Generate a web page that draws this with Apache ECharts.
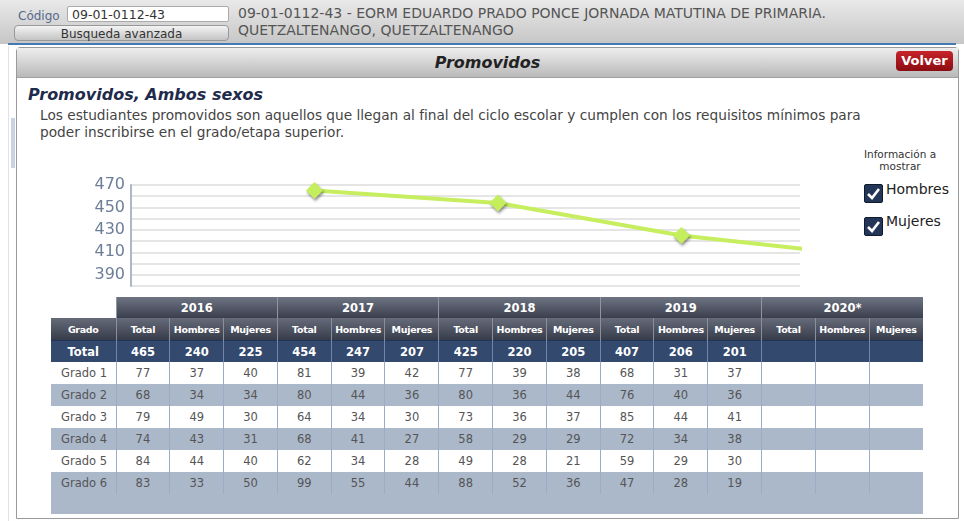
<!DOCTYPE html>
<html lang="es">
<head>
<meta charset="UTF-8">
<title>Promovidos</title>
<script src="https://cdn.jsdelivr.net/npm/echarts@6/dist/echarts.min.js"></script>
<style>
  body { margin: 0; width: 964px; height: 521px; overflow: hidden; background: #fff; font-family: 'DejaVu Sans', Verdana, sans-serif; position: relative; }
  .abs { position: absolute; }
  #top { left: 0; top: 0; width: 964px; height: 44px; background: linear-gradient(#e9e9e9, #c6c6c6); }
  #topline { left: 8px; top: 43px; width: 948px; height: 2px; background: #4579b2; }
  #codigo { left: 18px; top: 9px; font-size: 12px; color: #56688c; }
  #codbox { left: 67px; top: 6px; height: 16px; background: #fff; border: 1px solid #aaa; border-radius: 2px; font-size: 12.5px; color: #333; line-height: 16px; padding-left: 4px; box-sizing: border-box; width: 162px; }
  #busq { left: 14px; top: 25px; width: 215px; height: 16px; border: 1px solid #999; border-radius: 4px; background: linear-gradient(#f4f4f4, #c4c4c4); font-size: 12px; color: #333; text-align: center; line-height: 16px; box-sizing: border-box; }
  #school { left: 238px; top: 5px; font-size: 14px; color: #555; line-height: 17px; }
  #leftline { left: 8px; top: 46px; width: 1px; height: 475px; background: #e2e2e2; }
  #scroll { left: 11px; top: 118px; width: 4px; height: 50px; background: #c8d3e3; }
  #panel { left: 16px; top: 47px; width: 943px; height: 472px; border: 1px solid #9a9a9a; border-radius: 4px 4px 0 0; box-sizing: border-box; }
  #phead { left: 17px; top: 48px; width: 941px; height: 29px; background: linear-gradient(#eeeeee, #b9b9b9); border-bottom: 1px solid #a0a0a0; }
  #ptitle { left: 17px; top: 53px; width: 941px; text-align: center; font-size: 16px; font-weight: bold; font-style: italic; color: #222; }
  #volver { left: 896px; top: 51px; width: 57px; height: 20px; border-radius: 4px; background: linear-gradient(#c8232a, #8a0c12); color: #fff; font-weight: bold; font-size: 13px; text-align: center; line-height: 20px; }
  #subtitle { left: 28px; top: 85px; font-size: 16px; font-weight: bold; font-style: italic; color: #1f2b4b; }
  #desc { left: 40px; top: 107px; width: 870px; font-size: 13.7px; color: #444; line-height: 17px; }
  #chart { left: 0; top: 170px; width: 840px; height: 125px; }
  #info { left: 850px; top: 148px; width: 100px; text-align: center; font-size: 10.5px; color: #333; line-height: 12px; }
  .chk { left: 864px; width: 19px; height: 19px; background: #243657; border: 1px solid #101a2e; box-sizing: border-box; border-radius: 2px; }
  .chkl { left: 886px; font-size: 14px; color: #222; }
  table { position: absolute; left: 51px; top: 297px; border-collapse: collapse; table-layout: fixed; width: 872px; }
  td { padding: 0; text-align: center; overflow: hidden; white-space: nowrap; }
  .yr td.y { height: 21px; background: linear-gradient(#6f7483, #3a3f4e); color: #fff; font-weight: bold; font-size: 11.5px; border-left: 1px solid #9095a2; }
  .sh td { height: 22px; background: linear-gradient(#666b7a, #373c4a); color: #fff; font-weight: bold; font-size: 9.5px; border-left: 1px solid #8a8f9c; letter-spacing: -0.3px; }
  .tot td { height: 21px; background: #33496d; color: #fff; font-weight: bold; font-size: 11.5px; border-left: 1px solid #6f86aa; border-top: 1px solid #223455; }
  .row td { height: 22px; font-size: 11.5px; color: #555; border-left: 1px solid #9cacc6; }
  .row.alt td { background: #abb8ca; }
  .row td.g { text-align: left; padding-left: 10px; border-left: none; }
  .foot td { height: 20px; background: #abb8ca; }
</style>
</head>
<body>
<div class="abs" id="top"></div>
<div class="abs" id="topline"></div>
<div class="abs" id="codigo">Código</div>
<div class="abs" id="codbox">09-01-0112-43</div>
<div class="abs" id="busq">Busqueda avanzada</div>
<div class="abs" id="school">09-01-0112-43 - EORM EDUARDO PRADO PONCE JORNADA MATUTINA DE PRIMARIA.<br>QUETZALTENANGO, QUETZALTENANGO</div>
<div class="abs" id="leftline"></div>
<div class="abs" id="scroll"></div>
<div class="abs" id="panel"></div>
<div class="abs" id="phead"></div>
<div class="abs" id="ptitle">Promovidos</div>
<div class="abs" id="volver">Volver</div>
<div class="abs" id="subtitle">Promovidos, Ambos sexos</div>
<div class="abs" id="desc">Los estudiantes promovidos son aquellos que llegan al final del ciclo escolar y cumplen con los requisitos mínimos para<br>poder inscribirse en el grado/etapa superior.</div>
<div class="abs" id="chart"></div>
<div class="abs" id="info">Información a<br>mostrar</div>
<div class="abs chk" style="top:184px"><svg width="17" height="17"><polyline points="3,9 7,13 14,4" fill="none" stroke="#fff" stroke-width="2.6"/></svg></div>
<div class="abs chkl" style="top:181px">Hombres</div>
<div class="abs chk" style="top:217px"><svg width="17" height="17"><polyline points="3,9 7,13 14,4" fill="none" stroke="#fff" stroke-width="2.6"/></svg></div>
<div class="abs chkl" style="top:213px">Mujeres</div>
<table id="tabla"></table>

<script>
  // datos de la tabla
  var years = ['2016', '2017', '2018', '2019', '2020*'];
  var subCols = ['Total', 'Hombres', 'Mujeres'];
  var grades = ['Grado 1', 'Grado 2', 'Grado 3', 'Grado 4', 'Grado 5', 'Grado 6'];
  var totals = [[465, 240, 225], [454, 247, 207], [425, 220, 205], [407, 206, 201], [null, null, null]];
  var y2016 = [[77, 37, 40], [68, 34, 34], [79, 49, 30], [74, 43, 31], [84, 44, 40], [83, 33, 50]];
  var y2017 = [[81, 39, 42], [80, 44, 36], [64, 34, 30], [68, 41, 27], [62, 34, 28], [99, 55, 44]];
  var y2018 = [[77, 39, 38], [80, 36, 44], [73, 36, 37], [58, 29, 29], [49, 28, 21], [88, 52, 36]];
  var y2019 = [[68, 31, 37], [76, 40, 36], [85, 44, 41], [72, 34, 38], [59, 29, 30], [47, 28, 19]];
  var y2020 = [[], [], [], [], [], []];
  var byYear = [y2016, y2017, y2018, y2019, y2020];

  function v(x) { return (x === null || x === undefined) ? '' : x; }

  // construir tabla
  var html = '<colgroup><col style="width:65px">';
  for (var i = 0; i < 15; i++) html += '<col>';
  html += '</colgroup>';
  html += '<tr class="yr"><td></td>';
  years.forEach(function (y) { html += '<td class="y" colspan="3">' + y + '</td>'; });
  html += '</tr><tr class="sh"><td style="border-left:none">Grado</td>';
  years.forEach(function () { subCols.forEach(function (s) { html += '<td>' + s + '</td>'; }); });
  html += '</tr><tr class="tot"><td style="border-left:none">Total</td>';
  totals.forEach(function (t) { t.forEach(function (x) { html += '<td>' + v(x) + '</td>'; }); });
  html += '</tr>';
  grades.forEach(function (g, r) {
    html += '<tr class="row' + (r % 2 ? ' alt' : '') + '"><td class="g">' + g + '</td>';
    byYear.forEach(function (yd) {
      for (var c = 0; c < 3; c++) html += '<td>' + v(yd[r][c]) + '</td>';
    });
    html += '</tr>';
  });
  html += '<tr class="foot"><td colspan="16"></td></tr>';
  document.getElementById('tabla').innerHTML = html;

  // grafica de totales
  var lineData = [];
  for (var k = 0; k < 4; k++) lineData.push([parseInt(years[k]), totals[k][0]]);

  var myChart = echarts.init(document.getElementById('chart'));
  var option = {
    animation: false,
    grid: { left: 131, top: 15, width: 669, height: 101 },
    xAxis: {
      type: 'value',
      min: 2015,
      max: 2018.646,
      axisLine: { show: false },
      axisTick: { show: false },
      axisLabel: { show: false },
      splitLine: { show: false }
    },
    yAxis: {
      type: 'value',
      min: 380,
      max: 470,
      interval: 10,
      axisLine: { show: true, lineStyle: { color: '#aeb7c8', width: 2 } },
      axisTick: { show: false },
      axisLabel: {
        color: '#6d7e98',
        fontSize: 16,
        fontFamily: 'DejaVu Sans',
        margin: 6,
        formatter: function (val) { return ((val - 390) % 20 === 0) ? String(val) : ''; }
      },
      splitLine: { lineStyle: { color: '#dcdcdc', width: 1.5 } }
    },
    series: [{
      type: 'line',
      data: lineData,
      clip: true,
      symbol: 'diamond',
      symbolSize: 17,
      lineStyle: { color: '#c6ee5e', width: 4 },
      itemStyle: {
        color: '#c4ee5c',
        shadowBlur: 3,
        shadowColor: 'rgba(0,0,0,0.45)',
        shadowOffsetX: 1,
        shadowOffsetY: 2
      }
    }]
  };
  myChart.setOption(option);
</script>
</body>
</html>
